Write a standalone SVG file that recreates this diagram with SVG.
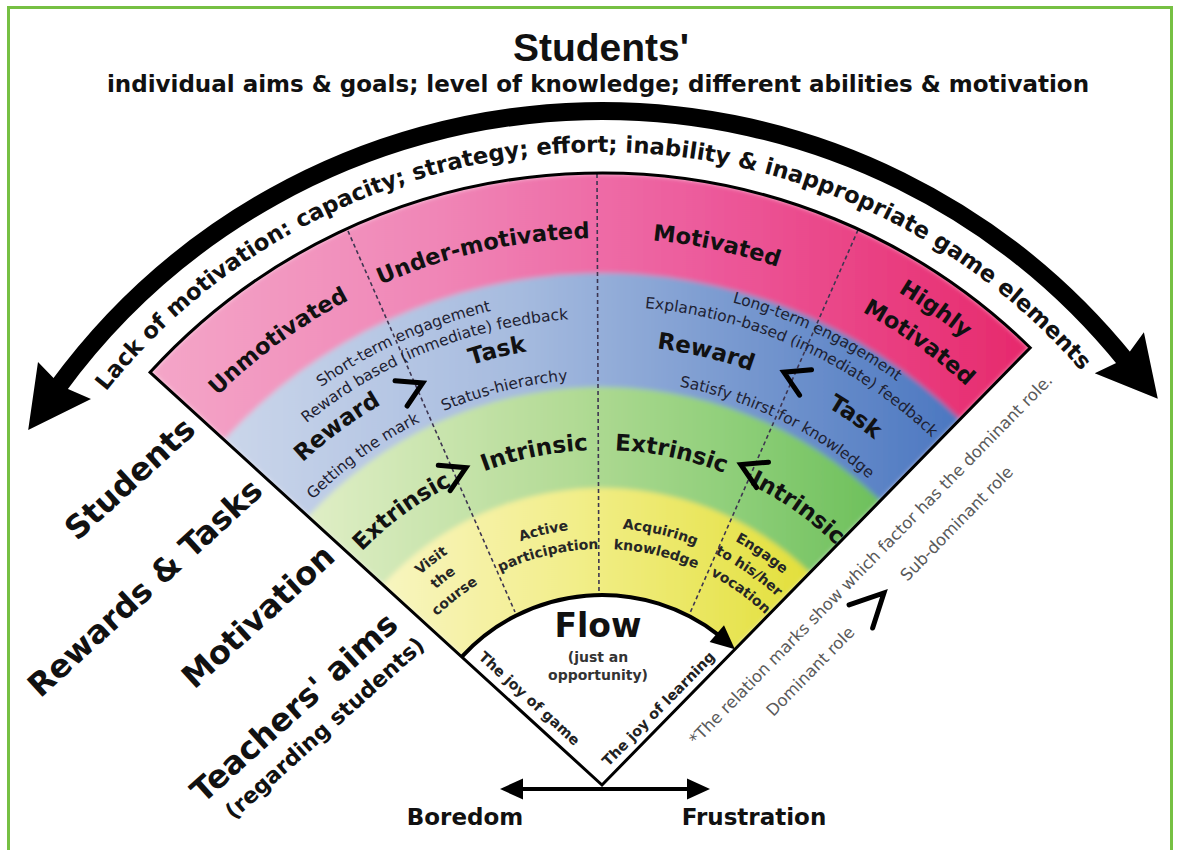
<svg xmlns="http://www.w3.org/2000/svg" width="1180" height="850" viewBox="0 0 1180 850">
<style>
.b{font-family:"DejaVu Sans","Liberation Sans",sans-serif;font-weight:bold;fill:#111}
.r{font-family:"DejaVu Sans","Liberation Sans",sans-serif;fill:#1e2233}
.pk{font-size:22.5px}
.big{font-size:23px}
.sm{font-size:15.5px}
.ye{font-size:14px;fill:#262626}
.side{font-size:32px;text-anchor:end}
.note{font-size:16.5px;fill:#5a5a5a;text-anchor:middle}
.dash{fill:none;stroke:#3d3550;stroke-width:1.6;stroke-dasharray:4 3}
.mark{fill:none;stroke:#000;stroke-width:5;stroke-linecap:round;stroke-linejoin:miter}
.blk{fill:#000}
</style>
<defs>
<linearGradient id="gPink" gradientUnits="userSpaceOnUse" x1="150" y1="0" x2="1035" y2="0">
<stop offset="0" stop-color="#f4a6c8"/><stop offset="0.33" stop-color="#f085b6"/><stop offset="0.63" stop-color="#ec5a9b"/><stop offset="1" stop-color="#e6286b"/>
</linearGradient>
<linearGradient id="gBlue" gradientUnits="userSpaceOnUse" x1="220" y1="0" x2="965" y2="0">
<stop offset="0" stop-color="#cbd6ea"/><stop offset="0.4" stop-color="#a6bbdf"/><stop offset="0.7" stop-color="#7798cf"/><stop offset="1" stop-color="#4a76c0"/>
</linearGradient>
<linearGradient id="gGreen" gradientUnits="userSpaceOnUse" x1="305" y1="0" x2="885" y2="0">
<stop offset="0" stop-color="#e0eec6"/><stop offset="0.45" stop-color="#b3db96"/><stop offset="0.75" stop-color="#8dce78"/><stop offset="1" stop-color="#6cbf5a"/>
</linearGradient>
<linearGradient id="gYellow" gradientUnits="userSpaceOnUse" x1="380" y1="0" x2="812" y2="0">
<stop offset="0" stop-color="#f8f5c0"/><stop offset="0.45" stop-color="#f2ee8a"/><stop offset="1" stop-color="#e2df3a"/>
</linearGradient>
<clipPath id="fanClip"><path d="M602,785 L150.1,372.3 A612,612 0 0 1 1030.2,347.7 Z"/></clipPath>
<filter id="soft" x="-5%" y="-5%" width="110%" height="110%"><feGaussianBlur stdDeviation="2.5"/></filter>
<path id="a633" d="M7.18,568.5 A633,633 0 0 1 1196.82,568.5"/>
<path id="a575" d="M61.68,588.34 A575,575 0 0 1 1142.32,588.34"/>
<path id="a547" d="M88.0,597.9 A547,547 0 0 1 1116.0,597.9"/>
<path id="a540" d="M94.57,600.31 A540,540 0 0 1 1109.43,600.31"/>
<path id="a500" d="M132.15,613.99 A500,500 0 0 1 1071.85,613.99"/>
<path id="a487" d="M144.37,618.44 A487,487 0 0 1 1059.63,618.44"/>
<path id="a479" d="M151.89,621.17 A479,479 0 0 1 1052.11,621.17"/>
<path id="a467" d="M163.16,625.28 A467,467 0 0 1 1040.84,625.28"/>
<path id="a440" d="M188.54,634.51 A440,440 0 0 1 1015.46,634.51"/>
<path id="a406" d="M220.49,646.14 A406,406 0 0 1 983.51,646.14"/>
<path id="a335" d="M287.2,670.42 A335,335 0 0 1 916.8,670.42"/>
<path id="a278" d="M340.77,689.92 A278,278 0 0 1 863.23,689.92"/>
<path id="a257" d="M360.5,697.1 A257,257 0 0 1 843.5,697.1"/>
<path id="a236" d="M380.23,704.28 A236,236 0 0 1 823.77,704.28"/>
</defs>

<rect x="0" y="0" width="1180" height="850" fill="#fff"/>
<rect x="8.5" y="7.5" width="1163" height="900" fill="none" stroke="#76c043" stroke-width="3"/>

<g id="node-title">
<text x="601" y="61" text-anchor="middle" style="font-family:'Liberation Sans',Arial,sans-serif;font-weight:bold;font-size:39px;fill:#111">Students'</text>
<text x="598" y="92" text-anchor="middle" class="b" style="font-size:23px">individual aims &amp; goals; level of knowledge; different abilities &amp; motivation</text>
</g>

<g id="node-lack-arrow">
<path d="M57.4,387.9 A674,674 0 0 1 1126.5,361.7" fill="none" stroke="#000" stroke-width="18"/>
<polygon class="blk" points="28.2,430 38,362 54.5,379 68,389 91,399"/>
<polygon class="blk" points="1157.8,398.8 1094.7,373.2 1116.7,362.8 1129.7,351.8 1143.9,332.2"/>
<text class="b" style="font-size:22.7px" text-anchor="middle"><textPath href="#a633" startOffset="760">Lack of motivation: capacity; strategy; effort; inability &amp; inappropriate game elements</textPath></text>
</g>

<g id="node-fan-bands" clip-path="url(#fanClip)">
<g filter="url(#soft)">
<path d="M602,785 L150.1,372.3 A612,612 0 0 1 1030.2,347.7 Z" fill="url(#gPink)"/>
<path d="M602,785 L223.9,439.8 A512,512 0 0 1 960.2,419.2 Z" fill="url(#gBlue)"/>
<path d="M602,785 L308.1,516.6 A398,398 0 0 1 880.5,500.6 Z" fill="url(#gGreen)"/>
<path d="M602,785 L382.7,584.7 A297,297 0 0 1 809.8,572.8 Z" fill="url(#gYellow)"/>
</g>
<path d="M602,785 L461.7,656.9 A190,190 0 0 1 734.9,649.3 Z" fill="#fff"/>
</g>

<g id="connectors">
<line class="dash" x1="348" y1="231" x2="515" y2="612"/>
<line class="dash" x1="597" y1="174" x2="599" y2="595"/>
<line class="dash" x1="858" y1="230" x2="690" y2="613"/>
<path d="M461.7,656.9 A190,190 0 0 1 719,635.3" fill="none" stroke="#000" stroke-width="4"/>
<polygon class="blk" points="734.9,649.3 724,625.3 709.6,641.9"/>
<line x1="516" y1="789" x2="694" y2="789" stroke="#000" stroke-width="4"/>
<polygon class="blk" points="500,789 523,778.5 523,799.5"/>
<polygon class="blk" points="710,789 687,778.5 687,799.5"/>
</g>

<path id="fan-outline" d="M150.1,372.3 A612,612 0 0 1 1030.2,347.7 L602,785 Z" fill="none" stroke="#000" stroke-width="3"/>

<g id="node-students-band">
<text class="b pk" text-anchor="middle"><textPath href="#a547" startOffset="323.6">Unmotivated</textPath></text>
<text class="b pk" text-anchor="middle"><textPath href="#a547" startOffset="548">Under-motivated</textPath></text>
<text class="b pk" text-anchor="middle"><textPath href="#a547" startOffset="782.8">Motivated</textPath></text>
<text class="b pk" text-anchor="middle"><textPath href="#a575" startOffset="1053.7">Highly</textPath></text>
<text class="b pk" text-anchor="middle"><textPath href="#a540" startOffset="995.3">Motivated</textPath></text>
</g>

<g id="node-rewards-band">
<text class="r sm" text-anchor="middle"><textPath href="#a487" startOffset="389.3">Short-term engagement</textPath></text>
<text class="r sm" text-anchor="middle"><textPath href="#a467" startOffset="393.7">Reward based (immediate) feedback</textPath></text>
<text class="r sm" text-anchor="middle"><textPath href="#a500" startOffset="834.3">Long-term engagement</textPath></text>
<text class="r sm" text-anchor="middle"><textPath href="#a479" startOffset="788.4">Explanation-based (immediate) feedback</textPath></text>
<text class="b big" text-anchor="middle"><textPath href="#a440" startOffset="257.3">Reward</textPath></text>
<text class="b big" text-anchor="middle"><textPath href="#a440" startOffset="433.1">Task</textPath></text>
<text class="b big" text-anchor="middle"><textPath href="#a440" startOffset="641.2">Reward</textPath></text>
<text class="b big" text-anchor="middle"><textPath href="#a440" startOffset="802.5">Task</textPath></text>
<text class="r sm" text-anchor="middle"><textPath href="#a406" startOffset="240.9">Getting the mark</textPath></text>
<text class="r sm" text-anchor="middle"><textPath href="#a406" startOffset="397.5">Status-hierarchy</textPath></text>
<text class="r sm" text-anchor="middle"><textPath href="#a406" startOffset="680.3">Satisfy thirst for knowledge</textPath></text>
<polyline class="mark" points="-12,-14 12,0 -12,14" transform="translate(411.9,388.2) rotate(-25.6)"/>
<polyline class="mark" points="12,-14 -12,0 12,14" transform="translate(794.7,377.3) rotate(25.3)"/>
</g>

<g id="node-motivation-band">
<text class="b big" text-anchor="middle"><textPath href="#a335" startOffset="197.6">Extrinsic</textPath></text>
<text class="b big" text-anchor="middle"><textPath href="#a335" startOffset="342">Intrinsic</textPath></text>
<text class="b big" text-anchor="middle"><textPath href="#a335" startOffset="478.3">Extrinsic</textPath></text>
<text class="b big" text-anchor="middle"><textPath href="#a335" startOffset="615.1">Intrinsic</textPath></text>
<polyline class="mark" points="-12,-14 12,0 -12,14" transform="translate(455.1,472.8) rotate(-25.2)"/>
<polyline class="mark" points="12,-14 -12,0 12,14" transform="translate(751.7,469.7) rotate(25.4)"/>
</g>

<g id="node-aims-band">
<text class="b ye" text-anchor="middle"><textPath href="#a278" startOffset="158.7">Visit</textPath></text>
<text class="b ye" text-anchor="middle"><textPath href="#a257" startOffset="145.8">the</textPath></text>
<text class="b ye" text-anchor="middle"><textPath href="#a236" startOffset="131.8">course</textPath></text>
<text class="b ye" text-anchor="middle"><textPath href="#a257" startOffset="255.7">Active</textPath></text>
<text class="b ye" text-anchor="middle"><textPath href="#a236" startOffset="234">participation</textPath></text>
<text class="b ye" text-anchor="middle"><textPath href="#a257" startOffset="372.3">Acquiring</textPath></text>
<text class="b ye" text-anchor="middle"><textPath href="#a236" startOffset="342.7">knowledge</textPath></text>
<text class="b ye" text-anchor="middle"><textPath href="#a278" startOffset="507.5">Engage</textPath></text>
<text class="b ye" text-anchor="middle"><textPath href="#a257" startOffset="468.7">to his/her</textPath></text>
<text class="b ye" text-anchor="middle"><textPath href="#a236" startOffset="434.6">vocation</textPath></text>
</g>

<g id="node-flow">
<text x="598" y="637" text-anchor="middle" class="b" style="font-size:33px">Flow</text>
<text x="598" y="662" text-anchor="middle" class="b" style="font-size:14px;fill:#333">(just an</text>
<text x="598" y="680" text-anchor="middle" class="b" style="font-size:14px;fill:#333">opportunity)</text>
<text class="b" text-anchor="middle" style="font-size:14.5px;fill:#222" transform="translate(526,702.1) rotate(42.4)">The joy of game</text>
<text class="b" text-anchor="middle" style="font-size:14.5px;fill:#222" transform="translate(662.1,712.2) rotate(-45.6)">The joy of learning</text>
</g>

<g id="node-side-labels">
<text class="b side" transform="translate(197.3,431.8) rotate(-42.5)">Students</text>
<text class="b side" transform="translate(264.5,493.2) rotate(-42.5)">Rewards &amp; Tasks</text>
<text class="b side" transform="translate(336.9,559.2) rotate(-42.5)">Motivation</text>
<text class="b side" transform="translate(400,627) rotate(-42)">Teachers' aims</text>
<text class="b" text-anchor="end" style="font-size:22px" transform="translate(426,647) rotate(-42)">(regarding students)</text>
</g>

<g id="node-legend">
<text class="r note" transform="translate(874.8,563.7) rotate(-45.6)">*The relation marks show which factor has the dominant role.</text>
<text class="r note" transform="translate(814.4,675.3) rotate(-45.6)">Dominant role</text>
<text class="r note" transform="translate(960.7,527.4) rotate(-45.6)">Sub-dominant role</text>
<polyline class="mark" points="-16.5,-16.5 16.5,0 -16.5,16.5" transform="translate(872.4,604.7) rotate(-45.6)"/>
</g>

<g id="node-bottom">
<text x="465" y="825" text-anchor="middle" class="b" style="font-size:23px">Boredom</text>
<text x="754" y="825" text-anchor="middle" class="b" style="font-size:23px">Frustration</text>
</g>
</svg>
